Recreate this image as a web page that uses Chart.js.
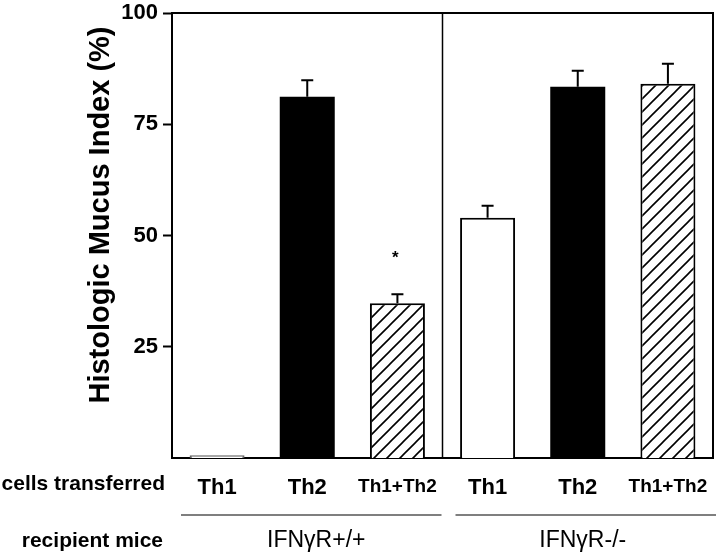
<!DOCTYPE html>
<html>
<head>
<meta charset="utf-8">
<script src="https://cdn.jsdelivr.net/npm/chart.js@4/dist/chart.umd.min.js"></script>
<style>
  html, body { margin: 0; padding: 0; background: #fff; }
  #wrap { width: 720px; height: 559px; }
</style>
</head>
<body>
<div id="wrap"><canvas id="myChart" width="720" height="559"></canvas></div>
<script>
let cells = ['Th1', 'Th2', 'Th1+Th2', 'Th1', 'Th2', 'Th1+Th2'];
let mucus = [0.6, 81.2, 34.8, 54.0, 83.4, 84.1];
let sem = [0, 3.7, 2.0, 2.7, 3.6, 4.5];
let marks = ['', '', '*', '', '', ''];
let groups = ['IFN\u03B3R+/+', 'IFN\u03B3R-/-'];
let yTicks = [25, 50, 75, 100];

// diagonal hatch for Th1+Th2 bars
function hatch() {
    let s = 13;
    let c = document.createElement('canvas');
    c.width = s; c.height = s;
    let g = c.getContext('2d');
    g.fillStyle = '#fff';
    g.fillRect(0, 0, s, s);
    g.strokeStyle = '#000';
    g.lineWidth = 1.6;
    g.beginPath();
    g.moveTo(-2, s + 2); g.lineTo(s + 2, -2);
    g.moveTo(-2, 2); g.lineTo(2, -2);
    g.moveTo(s - 2, s + 2); g.lineTo(s + 2, s - 2);
    g.stroke();
    return document.getElementById('myChart').getContext('2d').createPattern(c, 'repeat');
}
let hatchFill = hatch();

let fills = cells.map(c => c === 'Th2' ? '#000' : (c === 'Th1' ? '#fff' : hatchFill));
let borders = cells.map((c, i) => i === 0 ? '#666' : '#000');
let font = '"Liberation Sans", Arial, sans-serif';

let extras = {
    id: 'extras',
    afterDatasetsDraw(chart) {
        let ctx = chart.ctx;
        let x = chart.scales.x, y = chart.scales.y;
        let a = chart.chartArea;
        ctx.save();
        ctx.strokeStyle = '#000';
        ctx.fillStyle = '#000';

        // error bars (upper only)
        ctx.lineWidth = 2;
        mucus.forEach((v, i) => {
            if (!sem[i]) return;
            let px = x.getPixelForValue(i);
            let y0 = y.getPixelForValue(v);
            let y1 = y.getPixelForValue(v + sem[i]);
            ctx.beginPath();
            ctx.moveTo(px, y0); ctx.lineTo(px, y1);
            ctx.moveTo(px - 6, y1); ctx.lineTo(px + 6, y1);
            ctx.stroke();
            if (marks[i]) {
                ctx.font = 'bold 17px ' + font;
                ctx.textAlign = 'center';
                ctx.textBaseline = 'middle';
                ctx.fillText(marks[i], px - 2, y1 - 36);
            }
        });

        // frame top / right and group divider
        ctx.lineWidth = 2;
        ctx.beginPath();
        ctx.moveTo(a.left, a.top); ctx.lineTo(a.right, a.top); ctx.lineTo(a.right, a.bottom);
        ctx.stroke();
        let mid = (x.getPixelForValue(2) + x.getPixelForValue(3)) / 2;
        ctx.lineWidth = 1.5;
        ctx.beginPath();
        ctx.moveTo(mid, a.top); ctx.lineTo(mid, a.bottom);
        ctx.stroke();

        // y title
        ctx.save();
        ctx.translate(101, 215);
        ctx.rotate(-Math.PI / 2);
        ctx.font = 'bold 29px ' + font;
        ctx.textAlign = 'center';
        ctx.textBaseline = 'middle';
        ctx.fillText('Histologic Mucus Index (%)', 0, 0);
        ctx.restore();

        // row labels
        ctx.font = 'bold 21px ' + font;
        ctx.textAlign = 'right';
        ctx.textBaseline = 'middle';
        ctx.fillText('cells transferred', 165, 484);
        ctx.fillText('recipient mice', 163, 541);

        // group lines and labels
        let spans = [[a.left + 9, mid - 1], [mid + 13, a.right + 3]];
        let shift = [5, -3];
        ctx.lineWidth = 1.2;
        ctx.font = '23px ' + font;
        ctx.textAlign = 'center';
        spans.forEach((s, k) => {
            ctx.beginPath();
            ctx.moveTo(s[0], 515); ctx.lineTo(s[1], 515);
            ctx.stroke();
            ctx.fillText(groups[k], (s[0] + s[1]) / 2 + shift[k], 541);
        });
        ctx.restore();
    }
};

let chart = new Chart(document.getElementById('myChart').getContext('2d'), {
    type: 'bar',
    data: {
        labels: cells,
        datasets: [
            {
                data: mucus,
                backgroundColor: fills,
                borderColor: borders,
                borderWidth: cells.map(c => c === 'Th2' ? 0 : 2),
                barPercentage: 1,
                categoryPercentage: 0.61
            }
        ]
    },
    options: {
        responsive: false,
        animation: false,
        layout: { padding: { top: 13, right: 7, left: 0, bottom: 0 } },
        plugins: {
            legend: { display: false },
            tooltip: { enabled: false }
        },
        scales: {
            x: {
                afterFit: s => { s.height = 101; s.paddingLeft = 0; s.paddingRight = 0; },
                grid: { display: false },
                border: { display: true, color: '#000', width: 2 },
                ticks: {
                    color: '#000',
                    padding: 9,
                    maxRotation: 0,
                    font: ctx => ({
                        family: font,
                        weight: 'bold',
                        size: cells[ctx.index] === 'Th1+Th2' ? 19 : 22
                    })
                }
            },
            y: {
                min: 0,
                max: 100,
                afterFit: s => { s.width = 172; s.paddingTop = 0; s.paddingBottom = 0; },
                afterBuildTicks: s => { s.ticks = yTicks.map(v => ({ value: v })); },
                grid: {
                    drawOnChartArea: false,
                    drawTicks: true,
                    tickLength: 9,
                    tickWidth: 2,
                    color: '#000'
                },
                border: { display: true, color: '#000', width: 2 },
                ticks: {
                    color: '#000',
                    padding: 5,
                    font: { family: font, weight: 'bold', size: 22 }
                }
            }
        }
    },
    plugins: [extras]
});
</script>
</body>
</html>
